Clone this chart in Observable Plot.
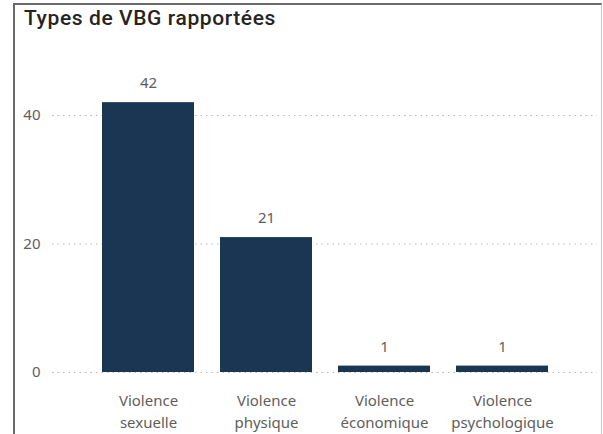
<!DOCTYPE html>
<html>
<head>
<meta charset="utf-8">
<script src="https://cdn.jsdelivr.net/npm/d3@7"></script>
<script src="https://cdn.jsdelivr.net/npm/@observablehq/plot@0.6"></script>
<style>
  html, body { margin: 0; padding: 0; background: #fff; }
  #wrap { position: relative; width: 603px; height: 434px; overflow: hidden; }
  #frame { position: absolute; left: 13px; top: 3px; width: 589px; height: 460px;
           border: 2px solid #6b6b6b; border-right: 1px solid #c8c8c8; box-sizing: border-box; }
  #title { position: absolute; left: 24px; top: 6px; font-family: Roboto, sans-serif;
           font-weight: 500; font-size: 21px; letter-spacing: 0.6px; color: #252423; white-space: nowrap; }
  #chart { position: absolute; left: 0; top: 0; }
</style>
</head>
<body>
<div id="wrap">
  <div id="frame"></div>
  <div id="title">Types de VBG rapportées</div>
  <div id="chart"></div>
</div>
<script>
const categories = ["Violence sexuelle", "Violence physique", "Violence économique", "Violence psychologique"];
const labels = ["Violence\nsexuelle", "Violence\nphysique", "Violence\néconomique", "Violence\npsychologique"];
const values = [42, 21, 1, 1];
const yTicks = [0, 20, 40];

const data = categories.map((c, i) => ({category: c, label: labels[i], value: values[i]}));
const labelOf = new Map(categories.map((c, i) => [c, labels[i]]));

const chart = Plot.plot({
  width: 603,
  height: 434,
  marginLeft: 52,
  marginRight: 6,
  marginTop: 115,
  marginBottom: 62,
  style: { fontFamily: "'Noto Sans', sans-serif", fontSize: "14px", color: "#605E5C", background: "transparent" },
  x: { domain: categories, paddingInner: 0.224, paddingOuter: 0.414, label: null },
  y: { domain: [0, 40], label: null },
  marks: [
    Plot.ruleY(yTicks, { stroke: "#bdbbb9", strokeDasharray: "1.5,4", strokeWidth: 1.2 }),
    Plot.barY(data, { x: "category", y: "value", fill: "#1b3653" }),
    Plot.text(data, { x: "category", y: "value", text: d => String(d.value), dy: -19,
                      fill: "#605E5C", fontSize: 15 }),
    Plot.axisY({ ticks: yTicks, tickSize: 0, tickPadding: 12, fontSize: 15, fill: "#605E5C", label: null }),
    Plot.axisX({ tickSize: 0, tickPadding: 18, fontSize: 15, fill: "#605E5C", lineHeight: 1.45,
                 tickFormat: c => labelOf.get(c), label: null })
  ]
});
document.getElementById("chart").appendChild(chart);
</script>
</body>
</html>
